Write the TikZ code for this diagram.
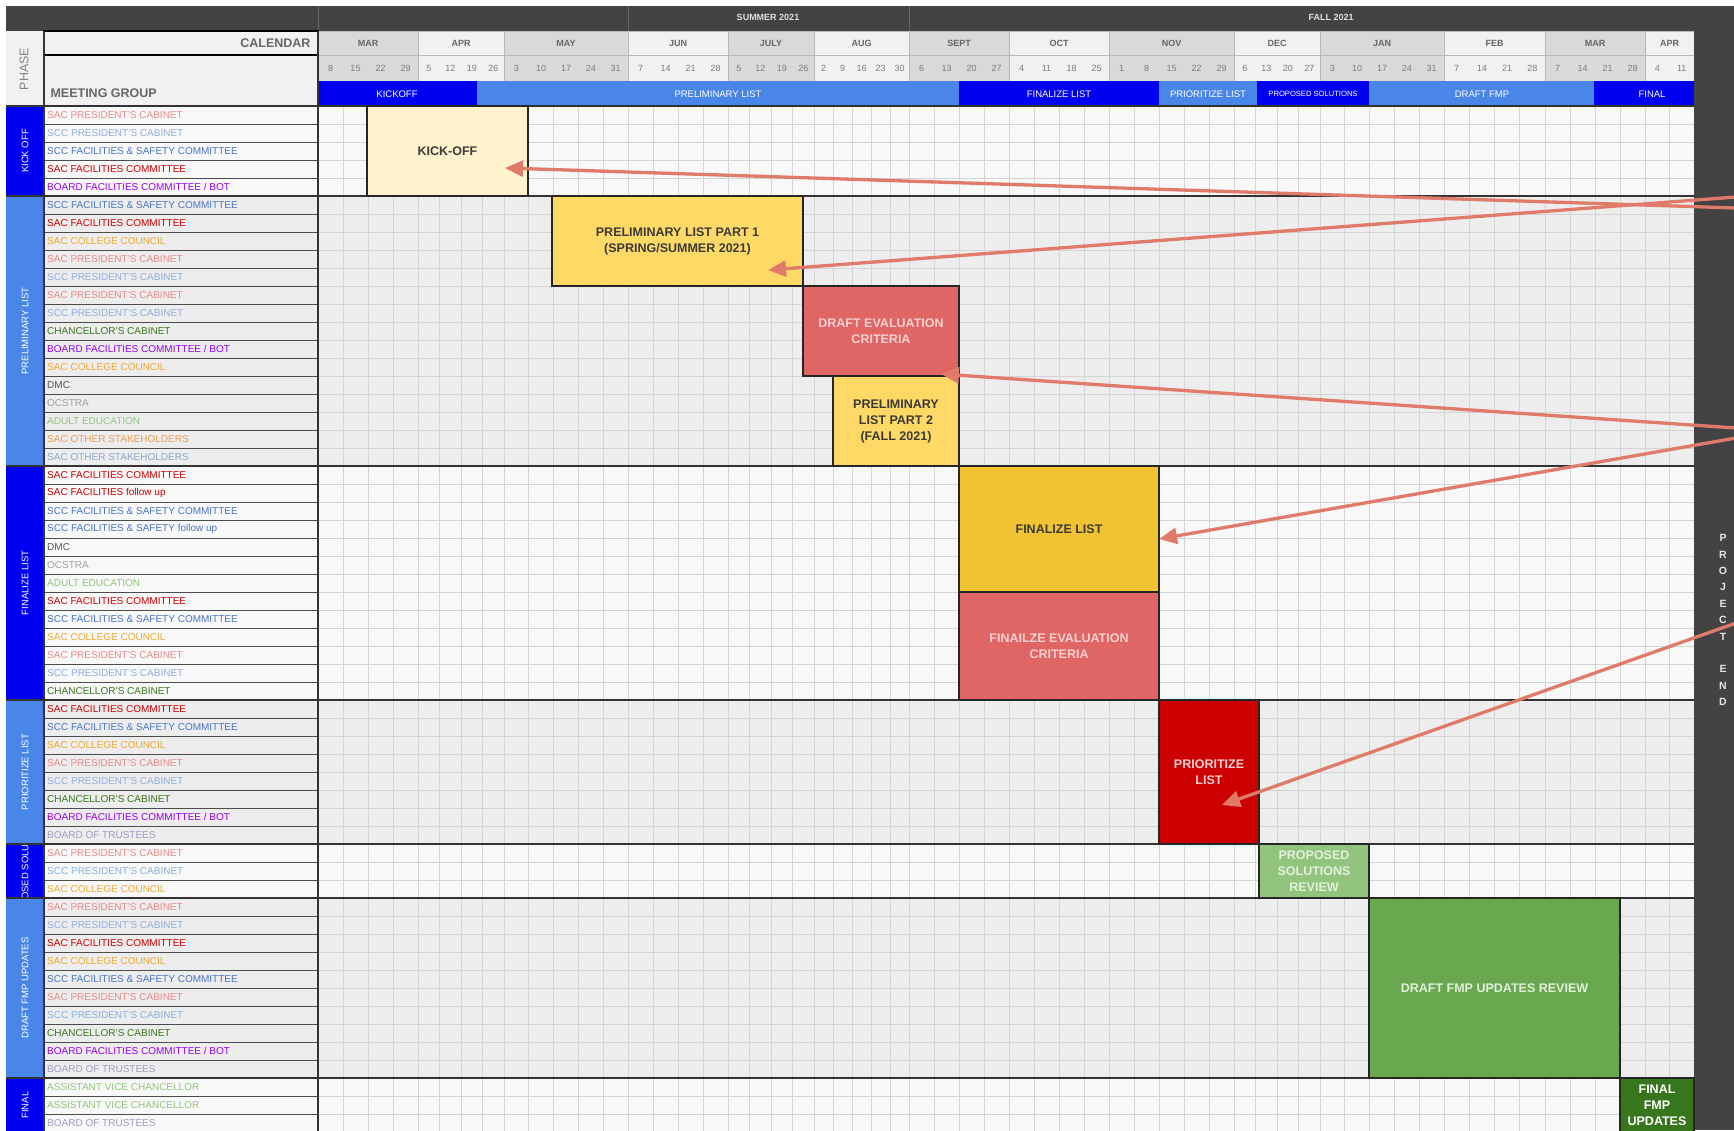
\documentclass[tikz,border=0pt]{standalone}
\usepackage{fontspec}
\setmainfont{Liberation Sans}
\usetikzlibrary{arrows.meta}
\definecolor{hdr}{HTML}{434343}
\definecolor{mgray}{HTML}{D9D9D9}
\definecolor{mlight}{HTML}{F1F1F1}
\definecolor{mborder}{HTML}{B8B8B8}
\definecolor{secA}{HTML}{F8F8F8}
\definecolor{secB}{HTML}{EDEDED}
\definecolor{gridc}{HTML}{D4D4D4}
\definecolor{pblue}{HTML}{0000F0}
\definecolor{plight}{HTML}{4A86E8}
\definecolor{cpink}{HTML}{E68A8A}
\definecolor{clblue}{HTML}{8DAEE0}
\definecolor{cblue}{HTML}{4A74C4}
\definecolor{cred}{HTML}{CC0000}
\definecolor{cpurple}{HTML}{9900EE}
\definecolor{corange}{HTML}{F0A832}
\definecolor{cgreen}{HTML}{38761D}
\definecolor{cdmc}{HTML}{555555}
\definecolor{cocs}{HTML}{A0A0A0}
\definecolor{clgreen}{HTML}{93C47D}
\definecolor{cbrown}{HTML}{E6A05A}
\definecolor{cslate}{HTML}{8EA6C6}
\definecolor{cbot}{HTML}{A29BC4}
\definecolor{arrowc}{HTML}{E07B6A}
\definecolor{kickc}{HTML}{FFF2CC}
\definecolor{prelc}{HTML}{FFD966}
\definecolor{evalc}{HTML}{E06666}
\definecolor{finc}{HTML}{F1C232}
\definecolor{prioc}{HTML}{CC0000}
\definecolor{propc}{HTML}{93C47D}
\definecolor{draftc}{HTML}{6AA84F}
\definecolor{finalc}{HTML}{38761D}
\definecolor{dtxt}{HTML}{3A3A3A}
\definecolor{pinktxt}{HTML}{F6D0D0}
\definecolor{greentxt}{HTML}{E2F0DC}
\definecolor{headtxt}{HTML}{666666}

\tikzset{
  rowlabel/.style={anchor=west, inner sep=0pt, font=\fontsize{10}{10}\selectfont},
  phasetxt/.style={rotate=90, text=white, inner sep=0pt, font=\fontsize{9.5}{10}\selectfont},
  bartxt/.style={text=white, inner sep=0pt, font=\fontsize{9.5}{10}\selectfont},
  monthtxt/.style={text=headtxt, inner sep=0pt, font=\fontsize{9}{10}\selectfont\bfseries},
  datetxt/.style={text=headtxt!85, inner sep=0pt, font=\fontsize{9}{10}\selectfont},
  gbox/.style={draw=black!85, line width=1.3pt, align=center, inner sep=0pt,
    font=\fontsize{12.5}{16}\selectfont\bfseries},
  callout/.style={draw=arrowc, line width=3.3pt, -{Triangle[length=18pt,width=16pt]}}
}
\newcommand\rl[3]{\node[rowlabel,text=#2] (r#1) at (47,{97+18*#1}) {#3};}
\newcommand\gbox[8]{\node[gbox, fill=#6, text=#7, minimum width={(#4-#2)*1pt},
  minimum height={(#5-#3)*1pt}] (#1) at ({(#2+#4)/2},{(#3+#5)/2}) {#8};}

\begin{document}
\begin{tikzpicture}[x=1pt,y=-1pt]
\useasboundingbox (0,0) rectangle (1734,1130);
\clip (0,0) rectangle (1734,1130);
\fill[white] (0,0) rectangle (1734,1130);

% section backgrounds
\fill[secA] (44,106) rectangle (1694,196);
\fill[secB] (44,196) rectangle (1694,466);
\fill[secA] (44,466) rectangle (1694,700);
\fill[secB] (44,700) rectangle (1694,844);
\fill[secA] (44,844) rectangle (1694,898);
\fill[secB] (44,898) rectangle (1694,1078);
\fill[secA] (44,1078) rectangle (1694,1132);

% grid rows
\foreach \i in {1,...,56} {
  \draw[gridc, line width=0.7pt] (318,{106+18*\i}) -- (1694,{106+18*\i});
  \draw[black!70, line width=0.8pt] (44,{106+18*\i}) -- (318,{106+18*\i});
}

% header band
\fill[hdr] (6,5.5) rectangle (1734,31);
\foreach \x in {318,628,909} \draw[black!60, line width=1pt] (\x,5.5) -- (\x,31);
\node[text=white!88!black, font=\fontsize{9}{10}\selectfont\bfseries] (summer) at (768,17) {SUMMER 2021};
\node[text=white!88!black, font=\fontsize{9}{10}\selectfont\bfseries] (fall) at (1331,17) {FALL 2021};

% months, dates, week grid
\foreach \a/\b/\n/\m/\ds/\sh in {
318/418/4/MAR/{8,15,22,29}/mgray,
418/504/4/APR/{5,12,19,26}/mlight,
504/628/5/MAY/{3,10,17,24,31}/mgray,
628/728/4/JUN/{7,14,21,28}/mlight,
728/814/4/JULY/{5,12,19,26}/mgray,
814/909/5/AUG/{2,9,16,23,30}/mlight,
909/1009/4/SEPT/{6,13,20,27}/mgray,
1009/1109/4/OCT/{4,11,18,25}/mlight,
1109/1234/5/NOV/{1,8,15,22,29}/mgray,
1234/1320/4/DEC/{6,13,20,27}/mlight,
1320/1444/5/JAN/{3,10,17,24,31}/mgray,
1444/1545/4/FEB/{7,14,21,28}/mlight,
1545/1645/4/MAR/{7,14,21,28}/mgray,
1645/1694/2/APR/{4,11}/mlight} {
  \fill[\sh] (\a,31) rectangle (\b,81);
  \draw[mborder, line width=0.8pt] (\a,31) rectangle (\b,55);
  \draw[mborder, line width=0.8pt] (\a,55) rectangle (\b,81);
  \node[monthtxt] (m\a) at ({(\a+\b)/2},43) {\m};
  \pgfmathsetmacro\w{(\b-\a)/\n}
  \foreach \d [count=\k] in \ds {
    \node[datetxt] (d\a-\k) at ({\a+(\k-0.5)*\w},68) {\d};
    \draw[gridc, line width=0.7pt] ({\a+\k*\w},106) -- ({\a+\k*\w},1132);
  }
}

% phase bar
\fill[pblue] (318,81) rectangle (477,106);
\fill[plight] (477,81) rectangle (959,106);
\fill[pblue] (959,81) rectangle (1159,106);
\fill[plight] (1159,81) rectangle (1257,106);
\fill[pblue] (1257,81) rectangle (1369,106);
\fill[plight] (1369,81) rectangle (1594,106);
\fill[pblue] (1594,81) rectangle (1694,106);
\node[bartxt] (b1) at (397,94) {KICKOFF};
\node[bartxt] (b2) at (718,94) {PRELIMINARY LIST};
\node[bartxt] (b3) at (1059,94) {FINALIZE LIST};
\node[bartxt] (b4) at (1208,94) {PRIORITIZE LIST};
\node[bartxt, font=\fontsize{7.6}{9}\selectfont] (b5) at (1313,94) {PROPOSED SOLUTIONS};
\node[bartxt] (b6) at (1482,94) {DRAFT FMP};
\node[bartxt] (b7) at (1652,94) {FINAL};

% left header cells
\fill[mlight] (6,31) rectangle (44,106);
\fill[mlight] (44,31) rectangle (318,106);
\draw[black, line width=1.2pt] (44,31) rectangle (318,55);
\draw[black, line width=1.2pt] (44,55) rectangle (318,106);
\node[text=headtxt!80, rotate=90, font=\fontsize{12.5}{13}\selectfont] (phase) at (24,69) {PHASE};
\node[text=headtxt, anchor=east, font=\fontsize{12.5}{13}\selectfont\bfseries] (cal) at (314,43) {CALENDAR};
\node[text=headtxt, anchor=west, font=\fontsize{12.5}{13}\selectfont\bfseries] (mg) at (47,93) {MEETING GROUP};

% phase column
\fill[pblue] (6,106) rectangle (44,196);
\fill[plight] (6,196) rectangle (44,466);
\fill[pblue] (6,466) rectangle (44,700);
\fill[plight] (6,700) rectangle (44,844);
\fill[pblue] (6,844) rectangle (44,898);
\fill[plight] (6,898) rectangle (44,1078);
\fill[pblue] (6,1078) rectangle (44,1132);
\node[phasetxt] (pkick) at (25,151) {KICK OFF};
\node[phasetxt] (pprel) at (25,331) {PRELIMINARY LIST};
\node[phasetxt] (pfin) at (25,583) {FINALIZE LIST};
\node[phasetxt] (pprio) at (25,772) {PRIORITIZE LIST};
\begin{scope}
  \clip (6,844) rectangle (44,898);
  \node[phasetxt] (pprop) at (25,871) {PROPOSED SOLUTIONS};
\end{scope}
\node[phasetxt] (pdraft) at (25,988) {DRAFT FMP UPDATES};
\node[phasetxt] (pfinal) at (25,1105) {FINAL};

% main separators
\draw[black!80, line width=1.2pt] (44,31) -- (44,1132);
\draw[black!80, line width=1.2pt] (318,31) -- (318,1132);
\foreach \y in {106,196,466,700,844,898,1078}
  \draw[black!80, line width=1.4pt] (6,\y) -- (1694,\y);

% row labels
\rl{1}{cpink}{SAC PRESIDENT'S CABINET}
\rl{2}{clblue}{SCC PRESIDENT'S CABINET}
\rl{3}{cblue}{SCC FACILITIES \& SAFETY COMMITTEE}
\rl{4}{cred}{SAC FACILITIES COMMITTEE}
\rl{5}{cpurple}{BOARD FACILITIES COMMITTEE / BOT}
\rl{6}{cblue}{SCC FACILITIES \& SAFETY COMMITTEE}
\rl{7}{cred}{SAC FACILITIES COMMITTEE}
\rl{8}{corange}{SAC COLLEGE COUNCIL}
\rl{9}{cpink}{SAC PRESIDENT'S CABINET}
\rl{10}{clblue}{SCC PRESIDENT'S CABINET}
\rl{11}{cpink}{SAC PRESIDENT'S CABINET}
\rl{12}{clblue}{SCC PRESIDENT'S CABINET}
\rl{13}{cgreen}{CHANCELLOR'S CABINET}
\rl{14}{cpurple}{BOARD FACILITIES COMMITTEE / BOT}
\rl{15}{corange}{SAC COLLEGE COUNCIL}
\rl{16}{cdmc}{DMC}
\rl{17}{cocs}{OCSTRA}
\rl{18}{clgreen}{ADULT EDUCATION}
\rl{19}{cbrown}{SAC OTHER STAKEHOLDERS}
\rl{20}{cslate}{SAC OTHER STAKEHOLDERS}
\rl{21}{cred}{SAC FACILITIES COMMITTEE}
\rl{22}{cred}{SAC FACILITIES follow up}
\rl{23}{cblue}{SCC FACILITIES \& SAFETY COMMITTEE}
\rl{24}{cblue}{SCC FACILITIES \& SAFETY follow up}
\rl{25}{cdmc}{DMC}
\rl{26}{cocs}{OCSTRA}
\rl{27}{clgreen}{ADULT EDUCATION}
\rl{28}{cred}{SAC FACILITIES COMMITTEE}
\rl{29}{cblue}{SCC FACILITIES \& SAFETY COMMITTEE}
\rl{30}{corange}{SAC COLLEGE COUNCIL}
\rl{31}{cpink}{SAC PRESIDENT'S CABINET}
\rl{32}{clblue}{SCC PRESIDENT'S CABINET}
\rl{33}{cgreen}{CHANCELLOR'S CABINET}
\rl{34}{cred}{SAC FACILITIES COMMITTEE}
\rl{35}{cblue}{SCC FACILITIES \& SAFETY COMMITTEE}
\rl{36}{corange}{SAC COLLEGE COUNCIL}
\rl{37}{cpink}{SAC PRESIDENT'S CABINET}
\rl{38}{clblue}{SCC PRESIDENT'S CABINET}
\rl{39}{cgreen}{CHANCELLOR'S CABINET}
\rl{40}{cpurple}{BOARD FACILITIES COMMITTEE / BOT}
\rl{41}{cbot}{BOARD OF TRUSTEES}
\rl{42}{cpink}{SAC PRESIDENT'S CABINET}
\rl{43}{clblue}{SCC PRESIDENT'S CABINET}
\rl{44}{corange}{SAC COLLEGE COUNCIL}
\rl{45}{cpink}{SAC PRESIDENT'S CABINET}
\rl{46}{clblue}{SCC PRESIDENT'S CABINET}
\rl{47}{cred}{SAC FACILITIES COMMITTEE}
\rl{48}{corange}{SAC COLLEGE COUNCIL}
\rl{49}{cblue}{SCC FACILITIES \& SAFETY COMMITTEE}
\rl{50}{cpink}{SAC PRESIDENT'S CABINET}
\rl{51}{clblue}{SCC PRESIDENT'S CABINET}
\rl{52}{cgreen}{CHANCELLOR'S CABINET}
\rl{53}{cpurple}{BOARD FACILITIES COMMITTEE / BOT}
\rl{54}{cbot}{BOARD OF TRUSTEES}
\rl{55}{clgreen}{ASSISTANT VICE CHANCELLOR}
\rl{56}{clgreen}{ASSISTANT VICE CHANCELLOR}
\rl{57}{cbot}{BOARD OF TRUSTEES}

% right band
\fill[hdr] (1694,5.5) rectangle (1734,1130);
\node[text=white!90!black, align=center, inner sep=0pt,
  font=\fontsize{10.5}{16.4}\selectfont\bfseries] (pend) at (1723,620)
  {P\\R\\O\\J\\E\\C\\T\\\strut\\E\\N\\D};

% gantt boxes
\gbox{kick}{367}{106}{528}{196}{kickc}{dtxt}{KICK-OFF}
\gbox{pre1}{552}{196}{803}{286}{prelc}{dtxt}{PRELIMINARY LIST PART 1\\(SPRING/SUMMER 2021)}
\gbox{deval}{803}{286}{959}{376}{evalc}{pinktxt}{DRAFT EVALUATION\\CRITERIA}
\gbox{pre2}{833}{376}{959}{466}{prelc}{dtxt}{PRELIMINARY\\LIST PART 2\\(FALL 2021)}
\gbox{fin}{959}{466}{1159}{592}{finc}{dtxt}{FINALIZE LIST}
\gbox{feval}{959}{592}{1159}{700}{evalc}{pinktxt}{FINAILZE EVALUATION\\CRITERIA}
\gbox{prio}{1159}{700}{1259}{844}{prioc}{pinktxt}{PRIORITIZE\\LIST}
\gbox{prop}{1259}{844}{1369}{898}{propc}{greentxt}{PROPOSED\\SOLUTIONS\\REVIEW}
\gbox{draft}{1369}{898}{1620}{1078}{draftc}{greentxt}{DRAFT FMP UPDATES REVIEW}
\gbox{final}{1620}{1078}{1694}{1132}{finalc}{white}{FINAL\\FMP\\UPDATES}

% callout arrows
\coordinate (s1) at (1736,208);
\coordinate (t1) at (505,168);
\coordinate (s2) at (1736,197);
\coordinate (t2) at (768,270);
\coordinate (s3) at (1736,428);
\coordinate (t3) at (941,374);
\coordinate (s4) at (1736,438);
\coordinate (t4) at (1159,539);
\coordinate (s5) at (1736,623);
\coordinate (t5) at (1222,805);
\draw[callout] (s1) -- (t1);
\draw[callout] (s2) -- (t2);
\draw[callout] (s3) -- (t3);
\draw[callout] (s4) -- (t4);
\draw[callout] (s5) -- (t5);
\end{tikzpicture}
\end{document}
